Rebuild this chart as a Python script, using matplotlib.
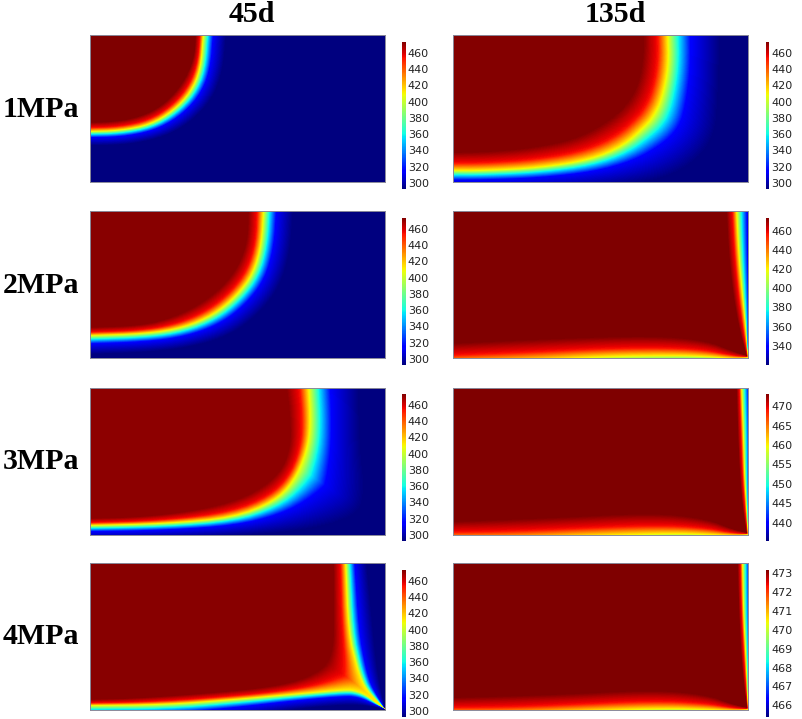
import numpy as np
import matplotlib
matplotlib.use("Agg")
import matplotlib.pyplot as plt
from matplotlib.path import Path

# isotherm curves, in panel pixels (x right, y down)
# hot = edge of the dark red, mid = yellow line, cold = edge of the dark blue
hot_45_1 = [(105,-3),(104,20),(97,40),(85,58),(70,72),(50,82),(25,87),(-5,88)]
mid_45_1 = [(113,-3),(110,35),(100,58),(83,76),(60,90),(30,96),(-5,97)]
cold_45_1 = [(136,-3),(133,35),(122,65),(100,88),(75,102),(45,109),(20,111),(-5,111)]

hot_135_1 = [(190,-3),(190,20),(185,50),(172,72),(150,90),(120,105),(80,113),(40,117),(-5,118)]
mid_135_1 = [(214,-3),(215,31),(208,65),(200,81),(193,90),(170,111),(137,125),(87,133),(30,136),(-5,136)]
cold_135_1 = [(267,-3),(265,65),(262,100),(245,125),(215,143),(170,152),(80,157),(-5,158)]

hot_45_2 = [(158,-3),(157,30),(148,55),(133,75),(112,92),(85,106),(52,115),(-5,117)]
mid_45_2 = [(173,-3),(171,32),(163,62),(146,85),(123,104),(93,117),(56,123),(-5,125)]
cold_45_2 = [(203,-3),(200,40),(190,75),(170,102),(140,125),(100,137),(55,142),(-5,144)]

hot_135_2 = [(273,-3),(275,40),(279,80),(285,115),(293,145),(293,145),(280,141),(253,130),(200,125),(100,128),(-5,133)]
mid_135_2 = [(283,-3),(285,40),(288,75),(292,115),(294.5,147),(294.5,147),(280,148),(253,146),(220,145),(150,146),(80,150),(-5,153)]
cold_135_2 = [(307,-3),(305,60),(301,100),(296,130),(294.5,147),(294.5,147),(250,170),(-5,185)]

hot_45_3 = [(196,-3),(200,30),(200,60),(190,85),(165,105),(130,118),(85,126),(40,130),(-5,131)]
mid_45_3 = [(218,-3),(220,37),(216,64),(203,94),(183,114),(143,130),(76,136),(-5,138)]
cold_45_3 = [(268,-3),(270,60),(275,100),(270,125),(240,138),(190,146),(110,150),(40,152),(-5,152)]

hot_135_3 = [(283,-3),(284,40),(286,85),(289,120),(293,145),(293,145),(280,142),(253,131),(200,125),(100,130),(-5,134)]
mid_135_3 = [(288,-3),(290,50),(291,87),(293,120),(294.5,147),(294.5,147),(280,148),(253,147),(220,146),(150,148),(60,152),(-5,152)]
cold_135_3 = [(304,-3),(303,60),(300,100),(297,130),(294.5,147),(294.5,147),(250,170),(-5,185)]

hot_45_4 = [(243,-3),(243,50),(243,85),(235,105),(210,118),(170,126),(100,132),(40,136),(-5,137)]
mid_45_4 = [(255,-3),(258,70),(266,103),(270,115),(275,126),(285,137),(294,146),(294,146),(285,140),(275,132),(265,128),(255,127),(210,131),(143,137),(76,142),(-5,143)]
cold_45_4 = [(276,-3),(283,70),(286,100),(290,125),(294.5,147),(294.5,147),(283,144),(260,142),(210,146),(143,156),(76,163),(-5,163)]

hot_135_4 = [(284,-3),(285,40),(287,85),(290,120),(293.5,145),(293.5,145),(280,142),(253,132),(200,127),(100,132),(-5,135)]
mid_135_4 = [(289,-3),(290,50),(292,87),(293.5,120),(294.5,147),(294.5,147),(280,148),(253,147),(210,146),(150,148),(60,152),(-5,152)]
cold_135_4 = [(304,-3),(303,60),(300,100),(297,130),(294.5,147),(294.5,147),(250,170),(-5,185)]

# colour level at each step across the front, hot->mid and mid->cold
hot_t = [0, 0.6, 1]
hot_level = [0.89, 0.65]
cold_t = [0, 0.19, 0.45, 1]
cold_level = [0.65, 0.38, 0.11, 0]

row_names = ["1MPa", "2MPa", "3MPa", "4MPa"]
col_names = ["45d", "135d"]
tick_300 = [300, 320, 340, 360, 380, 400, 420, 440, 460]
tick_340 = [340, 360, 380, 400, 420, 440, 460]
tick_440 = [440, 445, 450, 455, 460, 465, 470]
tick_466 = [466, 467, 468, 469, 470, 471, 472, 473]

# pixel layout of the picture
W, H = 803, 719
col_x = [90, 453]
row_y = [35, 211, 388, 563]
bar_x = [402.3, 765.7]
bar_y = [41.7, 217.7, 393.7, 569.7]
panel_w, panel_h = 295, 147
title_x = [252, 615]
label_y = [116.7, 292.7, 469, 644.3]


def smooth(curve):
    p = np.array(curve, float)
    for _ in range(2):
        a, b = p[:-1], p[1:]
        q = np.empty((2 * len(a), 2))
        q[0::2] = 0.75 * a + 0.25 * b
        q[1::2] = 0.25 * a + 0.75 * b
        p = np.vstack([p[:1], q, p[-1:]])
    return p


def distance(pts, curve):
    best = np.full(len(pts), np.inf)
    for a, b in zip(curve[:-1], curve[1:]):
        ab = b - a
        n = (ab ** 2).sum()
        if n == 0:
            continue
        s = np.clip(((pts - a) * ab).sum(axis=1) / n, 0, 1)
        d = ((pts - a - s[:, None] * ab) ** 2).sum(axis=1)
        best = np.minimum(best, d)
    return np.sqrt(best)


def make_field(hot, mid, cold, peak):
    xs, ys = np.meshgrid(np.arange(295) + 0.0, np.arange(148) + 0.0)
    pts = np.column_stack([xs.ravel(), ys.ravel()])
    curves = [smooth(c) for c in (hot, mid, cold)]
    inside = [Path(np.vstack([c, [(-5, -5)]])).contains_points(pts) for c in curves]
    d = [distance(pts, c) for c in curves]
    f = np.zeros(len(pts))
    f[inside[2]] = np.interp((d[1] / (d[1] + d[2] + 1e-9))[inside[2]], cold_t, cold_level)
    f[inside[1]] = np.interp((d[0] / (d[0] + d[1] + 1e-9))[inside[1]], hot_t, [peak] + hot_level)
    f[inside[0]] = peak
    return f.reshape(xs.shape)


# row, col, curves, colour range, level of the dark red inside, ticks
panels = [
    (0, 0, hot_45_1, mid_45_1, cold_45_1, 293, 473.5, 1.0, tick_300),
    (0, 1, hot_135_1, mid_135_1, cold_135_1, 293, 473.5, 0.995, tick_300),
    (1, 0, hot_45_2, mid_45_2, cold_45_2, 293, 473.5, 0.99, tick_300),
    (1, 1, hot_135_2, mid_135_2, cold_135_2, 320, 474, 0.998, tick_340),
    (2, 0, hot_45_3, mid_45_3, cold_45_3, 293, 473.5, 0.985, tick_300),
    (2, 1, hot_135_3, mid_135_3, cold_135_3, 435.4, 473.2, 1.0, tick_440),
    (3, 0, hot_45_4, mid_45_4, cold_45_4, 293, 473.5, 0.99, tick_300),
    (3, 1, hot_135_4, mid_135_4, cold_135_4, 465.4, 473.18, 1.0, tick_466),
]

fig = plt.figure(figsize=(W / 100, H / 100), dpi=100)


def add_axes(x, y, w, h):
    return fig.add_axes([x / W, 1 - (y + h) / H, w / W, h / H])


for r, c, hot, mid, cold, vmin, vmax, peak, ticks in panels:
    ax = add_axes(col_x[c], row_y[r], panel_w, panel_h)
    T = vmin + make_field(hot, mid, cold, peak) * (vmax - vmin)
    im = ax.imshow(T, cmap="jet", vmin=vmin, vmax=vmax, aspect="auto",
                   extent=[0, 294, 147, 0], interpolation="bilinear")
    ax.set_xticks([])
    ax.set_yticks([])
    for s in ax.spines.values():
        s.set_linewidth(0.7)
        s.set_color("#8a8a9a")
    cax = add_axes(bar_x[c], bar_y[r], 3.5, 147)
    cb = fig.colorbar(im, cax=cax, ticks=ticks)
    cb.outline.set_visible(False)
    cb.ax.tick_params(length=0, pad=1.5, labelsize=8, labelcolor="#222222")

for i, name in enumerate(col_names):
    fig.text(title_x[i] / W, 1 - 22 / H, name, family="Liberation Serif",
             weight="bold", size=21.5, ha="center", va="baseline")
for i, name in enumerate(row_names):
    fig.text(41 / W, 1 - label_y[i] / H, name, family="Liberation Serif",
             weight="bold", size=21.5, ha="center", va="baseline")

fig.savefig("out.png", dpi=100)
